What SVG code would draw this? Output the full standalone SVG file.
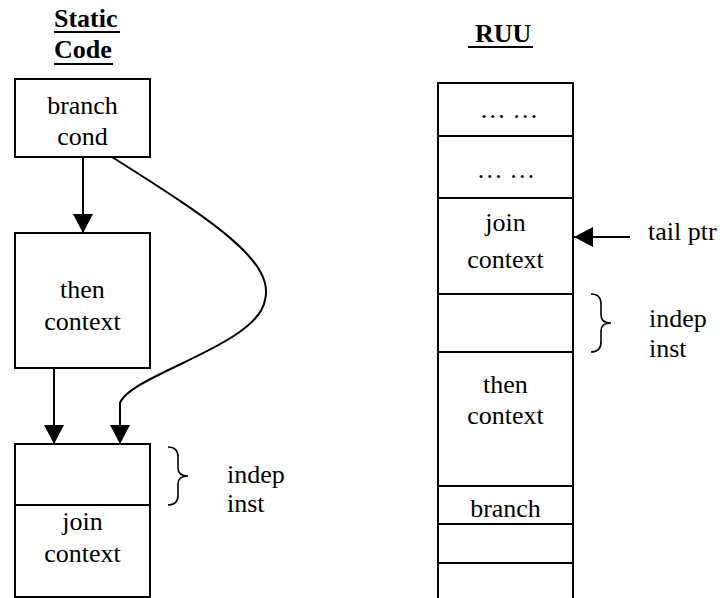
<svg xmlns="http://www.w3.org/2000/svg" width="722" height="598" viewBox="0 0 722 598">
<style>
text{font-family:'Liberation Serif','DejaVu Serif',serif;font-size:26px;fill:#000}
.c{text-anchor:middle}
.t{font-weight:bold}
.box{fill:#fff;stroke:#000;stroke-width:2}
.ln{fill:none;stroke:#000;stroke-width:2}
.br{fill:none;stroke:#000;stroke-width:1.6}
</style>
<defs>
<marker id="ah" markerUnits="userSpaceOnUse" markerWidth="20" markerHeight="20" viewBox="0 0 19 20" refX="19" refY="10" orient="auto">
<path d="M0,0 L19,10 L0,20 Z" fill="#000"/>
</marker>
</defs>
<rect width="722" height="598" fill="#fff"/>
<g id="titles" font-family="Liberation Serif">
<text class="t" x="54" y="27">Static</text>
<line x1="54" y1="32" x2="120" y2="32" stroke="#000" stroke-width="2"/>
<text class="t" x="54" y="58">Code</text>
<line x1="54" y1="64" x2="113" y2="64" stroke="#000" stroke-width="2"/>
<text class="t" x="475" y="42">RUU</text>
<line x1="468" y1="47" x2="533" y2="47" stroke="#000" stroke-width="2"/>
</g>
<g id="branch-cond">
<rect class="box" x="15" y="79" width="135" height="78"/>
<text class="c" x="82.5" y="114">branch</text>
<text class="c" x="82.5" y="145">cond</text>
</g>
<g id="then-context">
<rect class="box" x="15" y="233" width="135" height="135"/>
<text class="c" x="82.5" y="298">then</text>
<text class="c" x="82.5" y="330">context</text>
</g>
<g id="join-block">
<rect class="box" x="15" y="444" width="135" height="153"/>
<line class="ln" x1="15" y1="505" x2="150" y2="505"/>
<text class="c" x="82.5" y="530">join</text>
<text class="c" x="82.5" y="562">context</text>
</g>
<g id="left-indep">
<path class="br" d="M168,447 Q178,447 178,457 L178,468 Q178,476 188,476 Q178,476 178,484 L178,495 Q178,505 168,505"/>
<text x="227" y="483">indep</text>
<text x="227" y="512">inst</text>
</g>
<g id="ruu">
<path class="ln" d="M438,598 L438,83 L573,83 L573,598"/>
<line class="ln" x1="438" y1="136" x2="573" y2="136"/>
<line class="ln" x1="438" y1="198" x2="573" y2="198"/>
<line class="ln" x1="438" y1="294" x2="573" y2="294"/>
<line class="ln" x1="438" y1="352" x2="573" y2="352"/>
<line class="ln" x1="438" y1="486" x2="573" y2="486"/>
<line class="ln" x1="438" y1="524" x2="573" y2="524"/>
<line class="ln" x1="438" y1="563" x2="573" y2="563"/>
<text class="c" x="509" y="118">… …</text>
<text class="c" x="506" y="178">…  …</text>
<text class="c" x="505.5" y="231">join</text>
<text class="c" x="505.5" y="268">context</text>
<text class="c" x="505.5" y="393">then</text>
<text class="c" x="505.5" y="424">context</text>
<text class="c" x="505.5" y="517">branch</text>
</g>
<g id="right-indep">
<path class="br" d="M591,294 Q601,294 601,304 L601,315 Q601,323 611,323 Q601,323 601,331 L601,342 Q601,352 591,352"/>
<text x="649" y="327">indep</text>
<text x="649" y="357">inst</text>
</g>
<g id="tail-ptr">
<text x="648" y="240">tail ptr</text>
</g>
<g id="connectors">
<line class="ln" x1="83" y1="157" x2="83" y2="233" marker-end="url(#ah)"/>
<line class="ln" x1="54" y1="368" x2="54" y2="444" marker-end="url(#ah)"/>
<path class="ln" d="M112,157 C215,222 275,262 265,300 C258,345 130,375 120,403 L120,444" marker-end="url(#ah)"/>
<line class="ln" x1="630" y1="237" x2="574" y2="237" marker-end="url(#ah)"/>
</g>
</svg>
